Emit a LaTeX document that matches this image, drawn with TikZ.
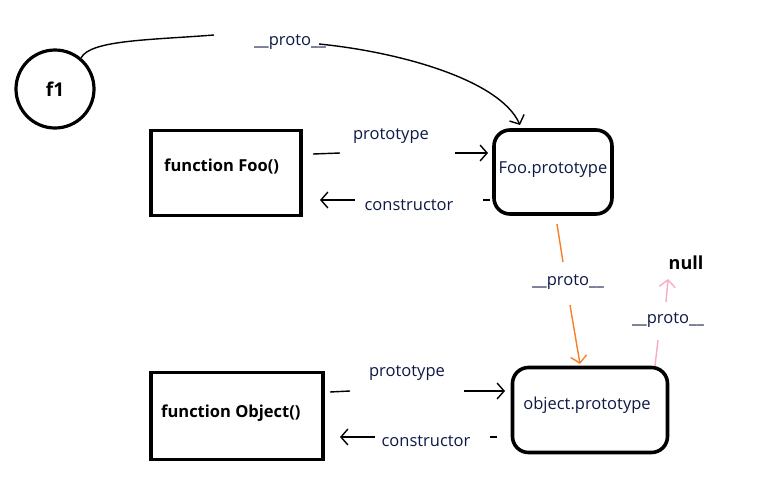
\documentclass[tikz,border=0pt]{standalone}
\usepackage{fontspec}
\setmainfont{Open Sans}
\usetikzlibrary{arrows.meta}
\definecolor{orangeline}{RGB}{250,125,40}
\definecolor{pinkline}{RGB}{248,170,200}
\definecolor{labelblue}{RGB}{15,25,70}
\tikzset{
  lbl/.style={font=\fontsize{16.5}{19}\selectfont,text=labelblue,inner sep=1pt},
  bold/.style={font=\bfseries\fontsize{16.5}{19}\selectfont,inner sep=1pt},
  conn/.style={line width=1.4pt},
  tip/.style={-{Straight Barb[length=7pt,width=16pt,line width=1.4pt]}},
}
\begin{document}
\begin{tikzpicture}[x=1pt,y=-1pt]
\useasboundingbox (0,0) rectangle (764,488);
\fill[white] (0,0) rectangle (764,488);

% f1
\node[draw,circle,line width=3.2pt,minimum size=78pt,inner sep=0,font=\bfseries\fontsize{19}{21}\selectfont] (f1) at (55,89) {f1};

% boxes
\node[draw,line width=3.6pt,minimum width=150pt,minimum height=85pt,inner sep=0] (foo) at (226,173) {};
\node[bold,anchor=west] (footxt) at (163,166) {function Foo()};
\node[draw,line width=3.6pt,rounded corners=16pt,minimum width=118pt,minimum height=84pt,inner sep=0] (foop) at (553,172) {};
\node[lbl] (fooptxt) at (553,170) {Foo.prototype};

\node[draw,line width=3.6pt,minimum width=172pt,minimum height=87pt,inner sep=0] (obj) at (237,416) {};
\node[bold,anchor=west] (objtxt) at (160,413) {function Object()};
\node[draw,line width=3.6pt,rounded corners=16pt,minimum width=155pt,minimum height=85pt,inner sep=0] (objp) at (590,410) {};
\node[lbl] (objptxt) at (587,405) {object.prototype};

% labels
\node[lbl] (p1) at (391,136) {prototype};
\node[lbl] (c1) at (409,205) {constructor};
\node[lbl] (p2) at (407,373) {prototype};
\node[lbl] (c2) at (426,441) {constructor};
\node[lbl] (pr0) at (290,42) {\_\_proto\_\_};
\node[lbl] (pr1) at (568,282) {\_\_proto\_\_};
\node[lbl] (pr2) at (668,320) {\_\_proto\_\_};
\node[font=\bfseries\fontsize{18}{20}\selectfont] (null) at (686,263) {null};

% coordinates
\coordinate (a1) at (313,154);
\coordinate (a2) at (340,153);
\coordinate (a3) at (455,153);
\coordinate (a4) at (488,153);
\coordinate (b1) at (490,200);
\coordinate (b2) at (483,200);
\coordinate (b3) at (355,200);
\coordinate (b4) at (320,200);
\coordinate (d1) at (330,392);
\coordinate (d2) at (350,391);
\coordinate (d3) at (464,391);
\coordinate (d4) at (505,391);
\coordinate (e1) at (497,437);
\coordinate (e2) at (490,437);
\coordinate (e3) at (375,437);
\coordinate (e4) at (340,437);

% prototype / constructor connectors
\draw[conn] (a1) -- (a2);
\draw[conn,tip] (a3) -- (a4);
\draw[conn] (b1) -- (b2);
\draw[conn,tip] (b3) -- (b4);
\draw[conn] (d1) -- (d2);
\draw[conn,tip] (d3) -- (d4);
\draw[conn] (e1) -- (e2);
\draw[conn,tip] (e3) -- (e4);

% f1 proto
\coordinate (g1) at (214,35);
\coordinate (g2) at (319,44);
\coordinate (g3) at (520,125);
\draw[conn] (f1.50) .. controls (90,40) and (150,40) .. (g1);
\draw[conn,tip] (g2) .. controls (400,52) and (500,80) .. (g3);

% orange proto
\coordinate (o1) at (557,224);
\coordinate (o2) at (563,262);
\coordinate (o3) at (570,305);
\coordinate (o4) at (580,364);
\draw[conn,orangeline] (o1) -- (o2);
\draw[conn,orangeline,tip] (o3) -- (o4);

% pink proto
\coordinate (q1) at (655,366);
\coordinate (q2) at (658,340);
\coordinate (q3) at (666,302);
\coordinate (q4) at (668,279);
\draw[conn,pinkline] (q1) -- (q2);
\draw[conn,pinkline,tip] (q3) -- (q4);
\end{tikzpicture}
\end{document}
